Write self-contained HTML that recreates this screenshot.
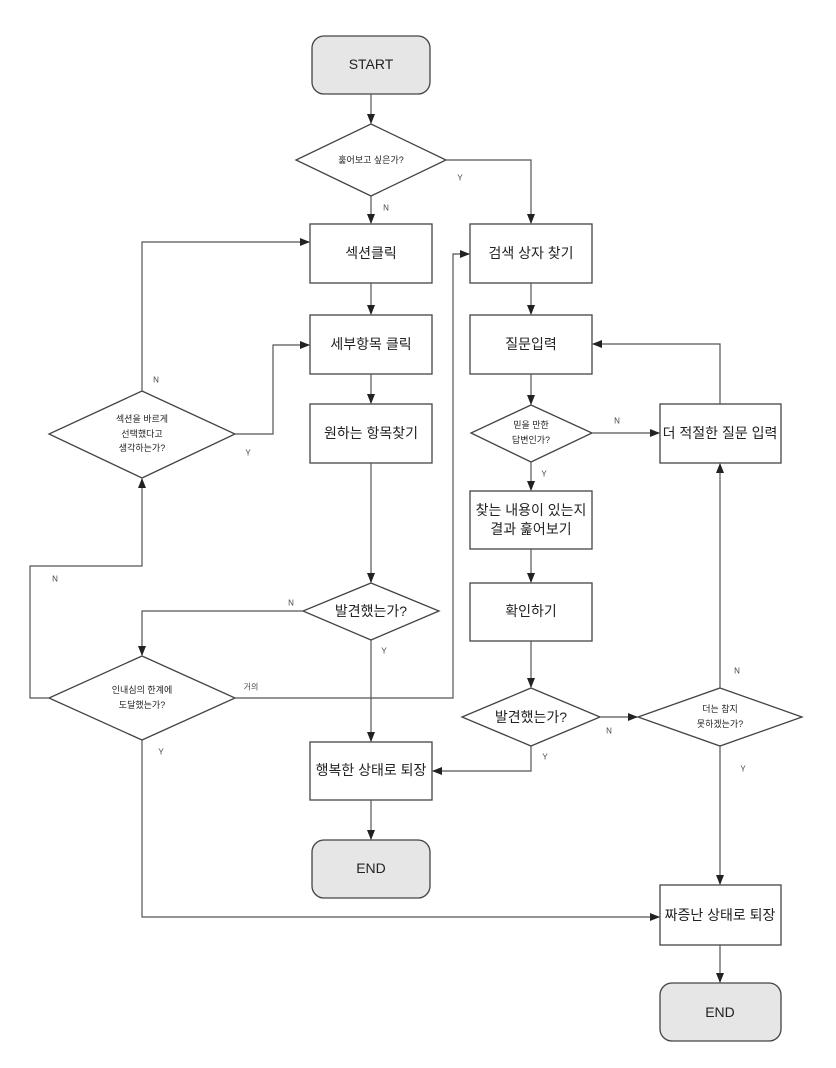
<!DOCTYPE html>
<html><head><meta charset="utf-8"><style>
html,body{margin:0;padding:0;background:#fff}
svg{display:block}
text{font-family:"Liberation Sans","Noto Sans CJK KR",sans-serif;fill:#222;text-anchor:middle;dominant-baseline:central}
.s{font-size:14px}.m{font-size:9px}.l{font-size:8px;fill:#444}
</style></head><body>
<svg width="836" height="1068" viewBox="0 0 836 1068" xmlns="http://www.w3.org/2000/svg">
<defs><marker id="a" markerWidth="10" markerHeight="8" refX="9" refY="4" orient="auto" markerUnits="userSpaceOnUse"><path d="M0,0L10,4L0,8z" fill="#222"/></marker></defs>
<g fill="none" stroke="#444" stroke-width="1.3">
<rect x="312" y="36" width="118" height="58" rx="12" fill="#e6e6e6"/>
<polygon points="371,124 446,160 371,196 296,160" fill="#fff"/>
<rect x="310" y="224" width="122" height="59" fill="#fff"/>
<rect x="310" y="315" width="122" height="59" fill="#fff"/>
<rect x="310" y="404" width="122" height="59" fill="#fff"/>
<polygon points="142,391 235,434 142,478 49,434" fill="#fff"/>
<polygon points="371,583 439,611 371,640 303,611" fill="#fff"/>
<polygon points="142,656 235,698 142,740 49,698" fill="#fff"/>
<rect x="310" y="742" width="122" height="58" fill="#fff"/>
<rect x="312" y="840" width="118" height="58" rx="12" fill="#e6e6e6"/>
<rect x="470" y="224" width="122" height="59" fill="#fff"/>
<rect x="470" y="315" width="122" height="59" fill="#fff"/>
<polygon points="531,405 592,433 531,462 471,433" fill="#fff"/>
<rect x="660" y="404" width="121" height="59" fill="#fff"/>
<rect x="470" y="491" width="122" height="58" fill="#fff"/>
<rect x="470" y="583" width="122" height="58" fill="#fff"/>
<polygon points="531,688 600,717 531,746 462,717" fill="#fff"/>
<polygon points="720,688 802,717 720,746 638,717" fill="#fff"/>
<rect x="660" y="885" width="121" height="60" fill="#fff"/>
<rect x="660" y="983" width="121" height="58" rx="12" fill="#e6e6e6"/>
</g>
<g fill="none" stroke="#555" stroke-width="1.2">
<path d="M371,94V123" marker-end="url(#a)"/>
<path d="M371,196V223" marker-end="url(#a)"/>
<path d="M446,160H531V223" marker-end="url(#a)"/>
<path d="M371,283V314" marker-end="url(#a)"/>
<path d="M371,374V403" marker-end="url(#a)"/>
<path d="M142,391V242H309" marker-end="url(#a)"/>
<path d="M235,434H273V345H309" marker-end="url(#a)"/>
<path d="M371,463V582" marker-end="url(#a)"/>
<path d="M303,611H142V655" marker-end="url(#a)"/>
<path d="M371,640V741" marker-end="url(#a)"/>
<path d="M49,698H30V566H142V479" marker-end="url(#a)"/>
<path d="M235,698H453V254H469" marker-end="url(#a)"/>
<path d="M142,740V917H659" marker-end="url(#a)"/>
<path d="M371,800V839" marker-end="url(#a)"/>
<path d="M531,283V314" marker-end="url(#a)"/>
<path d="M531,374V404" marker-end="url(#a)"/>
<path d="M592,433H659" marker-end="url(#a)"/>
<path d="M720,404V344H593" marker-end="url(#a)"/>
<path d="M531,462V490" marker-end="url(#a)"/>
<path d="M531,549V582" marker-end="url(#a)"/>
<path d="M531,641V687" marker-end="url(#a)"/>
<path d="M600,717H637" marker-end="url(#a)"/>
<path d="M720,688V464" marker-end="url(#a)"/>
<path d="M720,746V884" marker-end="url(#a)"/>
<path d="M531,746V771H433" marker-end="url(#a)"/>
<path d="M720,983V945" stroke="none"/>
<path d="M720,945V982" marker-end="url(#a)"/>
</g>
<text class="s" x="371" y="64">START</text>
<text class="m" x="371" y="160">훑어보고 싶은가?</text>
<text class="s" x="371" y="253">섹션클릭</text>
<text class="s" x="371" y="344">세부항목 클릭</text>
<text class="s" x="371" y="433">원하는 항목찾기</text>
<text class="m" x="142" y="419">섹션을 바르게</text>
<text class="m" x="142" y="434">선택했다고</text>
<text class="m" x="142" y="448">생각하는가?</text>
<text class="s" x="371" y="611">발견했는가?</text>
<text class="m" x="142" y="690">인내심의 한계에</text>
<text class="m" x="142" y="705">도달했는가?</text>
<text class="s" x="371" y="770">행복한 상태로 퇴장</text>
<text class="s" x="371" y="868">END</text>
<text class="s" x="531" y="253">검색 상자 찾기</text>
<text class="s" x="531" y="344">질문입력</text>
<text class="m" x="531" y="425">믿을 만한</text>
<text class="m" x="531" y="440">답변인가?</text>
<text class="s" x="720" y="433">더 적절한 질문 입력</text>
<text class="s" x="531" y="510">찾는 내용이 있는지</text>
<text class="s" x="531" y="529">결과 훑어보기</text>
<text class="s" x="531" y="611">확인하기</text>
<text class="s" x="531" y="717">발견했는가?</text>
<text class="m" x="720" y="709">더는 참지</text>
<text class="m" x="720" y="724">못하겠는가?</text>
<text class="s" x="720" y="915">짜증난 상태로 퇴장</text>
<text class="s" x="720" y="1012">END</text>
<text class="l" x="386" y="208">N</text>
<text class="l" x="460" y="178">Y</text>
<text class="l" x="156" y="380">N</text>
<text class="l" x="248" y="453">Y</text>
<text class="l" x="55" y="579">N</text>
<text class="l" x="291" y="603">N</text>
<text class="l" x="384" y="651">Y</text>
<text class="l" x="251" y="687">거의</text>
<text class="l" x="161" y="752">Y</text>
<text class="l" x="617" y="421">N</text>
<text class="l" x="544" y="474">Y</text>
<text class="l" x="545" y="757">Y</text>
<text class="l" x="609" y="731">N</text>
<text class="l" x="737" y="671">N</text>
<text class="l" x="743" y="769">Y</text>
</svg>
</body></html>
